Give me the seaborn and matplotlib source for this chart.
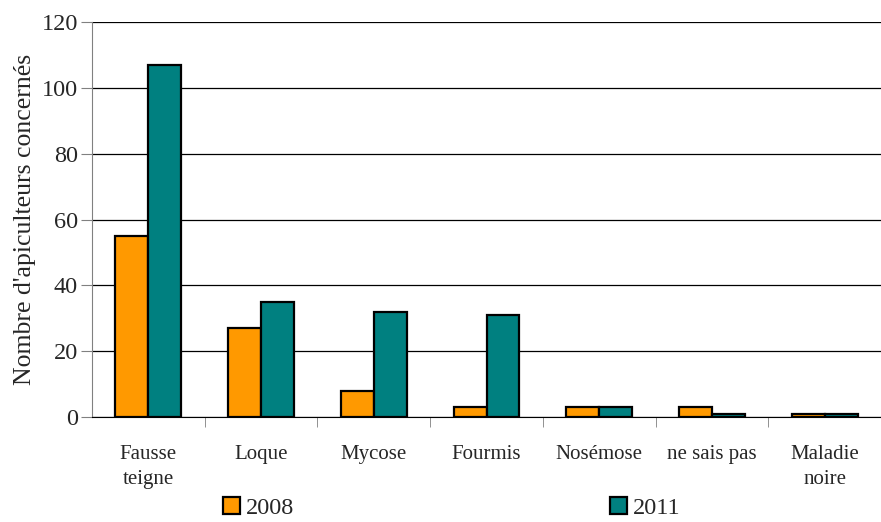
import pandas as pd
import matplotlib.pyplot as plt
import seaborn as sns
from matplotlib.ticker import FixedLocator

categories = ["Fausse\nteigne", "Loque", "Mycose", "Fourmis", "Nosémose", "ne sais pas", "Maladie\nnoire"]
values_2008 = [55, 27, 8, 3, 3, 3, 1]
values_2011 = [107, 35, 32, 31, 3, 1, 1]
years = ["2008", "2011"]
colors = ["#FF9900", "#008080"]

df = pd.DataFrame({
    "categorie": categories * 2,
    "annee": [years[0]] * len(categories) + [years[1]] * len(categories),
    "nombre": values_2008 + values_2011,
})

sns.set_style("white")
plt.rcParams["font.family"] = ["Liberation Serif", "DejaVu Serif"]

fig = plt.figure(figsize=(8.81, 5.22), dpi=100)
ax = fig.add_axes([92 / 881, 105 / 522, 789 / 881, 395 / 522])

sns.barplot(df, x="categorie", y="nombre", hue="annee", palette=colors,
            width=0.585, gap=0, edgecolor="black", linewidth=1.6,
            saturation=1, ax=ax, legend=True)

ax.set_ylim(0, 120)
ax.set_xlim(-0.5, 6.5)
ax.set_yticks(range(0, 121, 20))
ax.yaxis.grid(True, color="black", linewidth=0.9)
ax.set_axisbelow(True)
for s in ["top", "right"]:
    ax.spines[s].set_visible(False)
ax.spines["left"].set_color("#808080")
ax.spines["bottom"].set_color("black")

ax.tick_params(axis="y", which="major", length=8, direction="out", color="#808080",
               labelsize=17.5, left=True, pad=2)
ax.tick_params(axis="x", which="major", length=0, labelsize=15, pad=20)
for lbl in ax.get_xticklabels():
    lbl.set_linespacing(1.45)
ax.xaxis.set_minor_locator(FixedLocator([k + 0.5 for k in range(6)]))
ax.tick_params(axis="x", which="minor", length=7, direction="out", color="#808080", bottom=True)

ax.set_xlabel("")
ax.set_ylabel("Nombre d'apiculteurs concernés", fontsize=18.5, labelpad=4)

handles, labels = ax.get_legend_handles_labels()
ax.get_legend().remove()
fig.legend(handles, labels, loc="center", bbox_to_anchor=(0.513, 0.027), ncol=2,
           frameon=False, fontsize=17.5, columnspacing=13, handlelength=0.7,
           handleheight=0.7, handletextpad=0.25, borderpad=0.1)

fig.savefig("out.png", dpi=100)
